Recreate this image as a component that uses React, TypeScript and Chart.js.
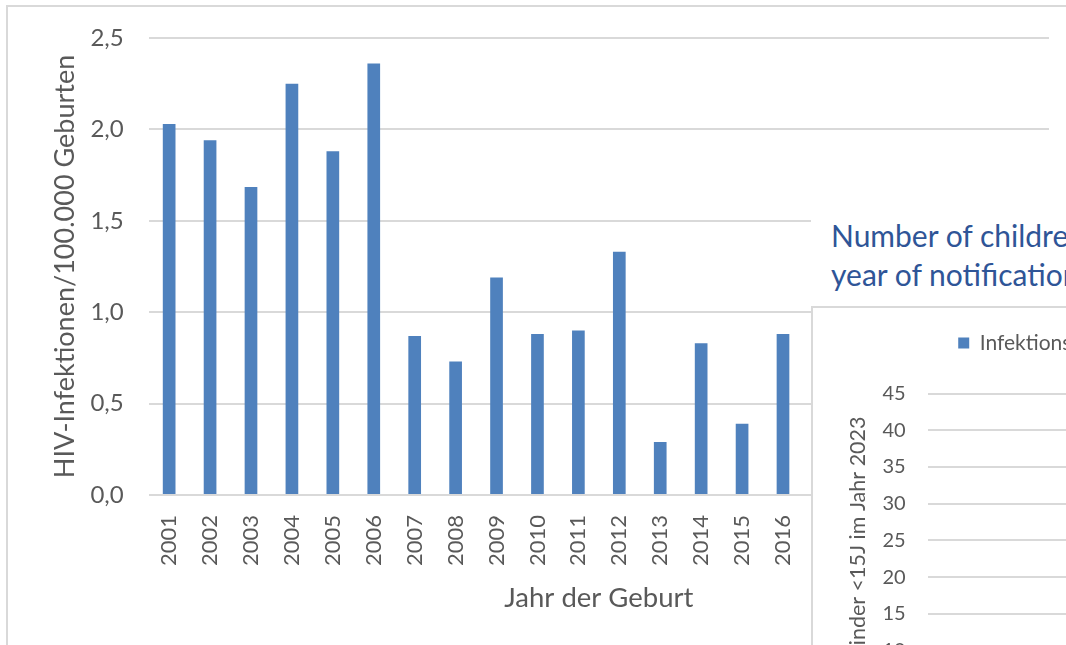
import { useEffect, useRef } from "react";
import { Chart, registerables } from "chart.js";

Chart.register(...registerables);

// ---------- main chart data ----------
const birthYears = [
  "2001", "2002", "2003", "2004", "2005", "2006", "2007", "2008",
  "2009", "2010", "2011", "2012", "2013", "2014", "2015", "2016",
  "2017", "2018", "2019", "2020", "2021", "2022",
];
// 2017-2022 are hidden behind the overlapping second chart
const hivRatePer100k: (number | null)[] = [
  2.03, 1.94, 1.685, 2.25, 1.88, 2.36, 0.87, 0.73,
  1.19, 0.88, 0.9, 1.33, 0.29, 0.83, 0.39, 0.88,
  null, null, null, null, null, null,
];
const yMin = 0;
const yMax = 2.5;
const yStep = 0.5;
const yTitle = "HIV-Infektionen/100.000 Geburten";
const xTitle = "Jahr der Geburt";

// ---------- overlapping second chart ----------
const insetTitleLines = [
  "Number of children <15 years with HIV infection by",
  "year of notification and transmission route",
];
const insetLegendLabel = "Infektionsweg Mutter-Kind";
const insetYTitle = "Alle Kinder <15J im Jahr 2023";
const insetYears = ["2019", "2020", "2021", "2022", "2023"];
const insetCounts: (number | null)[] = [null, null, null, null, null];
const insetYMin = 0;
const insetYMax = 45;
const insetYStep = 5;

const FONT = "Lato";
const GREY = "#595959";
const GRID = "#d9d9d9";
const BLUE = "#4f81bd";

export default function App() {
  const mainRef = useRef<HTMLCanvasElement>(null);
  const insetRef = useRef<HTMLCanvasElement>(null);

  useEffect(() => {
    Chart.defaults.font.family = FONT;
    const main = new Chart(mainRef.current!, {
      type: "bar",
      data: {
        labels: birthYears,
        datasets: [
          {
            label: "HIV-Infektionen/100.000 Geburten",
            data: hivRatePer100k,
            backgroundColor: BLUE,
            borderWidth: 0,
            categoryPercentage: 1,
            barPercentage: 0.31,
          },
        ],
      },
      options: {
        responsive: false,
        animation: false,
        layout: { padding: { left: 48.8, right: 17, top: 38, bottom: 30.5 } },
        plugins: { legend: { display: false }, tooltip: { enabled: false } },
        scales: {
          x: {
            grid: {
              display: true,
              color: "transparent",
              tickColor: "transparent",
              drawTicks: true,
              tickLength: 20,
            },
            border: { display: false },
            ticks: {
              color: GREY,
              font: { size: 22, family: FONT },
              minRotation: 90,
              maxRotation: 90,
              autoSkip: false,
              padding: 0,
            },
            title: {
              display: true,
              text: xTitle,
              color: GREY,
              font: { size: 27.5, family: FONT },
              padding: { top: 15.5, bottom: 0 },
            },
          },
          y: {
            min: yMin,
            max: yMax,
            grid: {
              color: GRID,
              lineWidth: 2,
              drawTicks: true,
              tickLength: 25,
              tickColor: "transparent",
            },
            border: { display: false },
            ticks: {
              stepSize: yStep,
              color: GREY,
              font: { size: 24, family: FONT },
              padding: 0,
              callback: (v) => Number(v).toFixed(1).replace(".", ","),
            },
            title: {
              display: true,
              text: yTitle,
              color: GREY,
              font: { size: 27, family: FONT },
              padding: { top: 0, bottom: 9.2 },
            },
          },
        },
      },
    });

    const legendSpacer = {
      id: "legendSpacer",
      beforeInit(chart: any) {
        const orig = chart.legend.fit;
        chart.legend.fit = function fit() {
          orig.bind(chart.legend)();
          this.height += 30;
        };
      },
    };

    const inset = new Chart(insetRef.current!, {
      type: "bar",
      data: {
        labels: insetYears,
        datasets: [
          {
            label: insetLegendLabel,
            data: insetCounts,
            backgroundColor: BLUE,
          },
        ],
      },
      options: {
        responsive: false,
        animation: false,
        layout: { padding: { left: 32.2, right: 0, top: 14.5, bottom: 144 } },
        plugins: {
          legend: {
            display: true,
            position: "top",
            labels: {
              color: GREY,
              font: { size: 21, family: FONT },
              boxWidth: 11,
              boxHeight: 11,
              padding: 10,
            },
          },
          tooltip: { enabled: false },
        },
        scales: {
          x: { display: false },
          y: {
            min: insetYMin,
            max: insetYMax,
            grid: {
              color: GRID,
              lineWidth: 2,
              drawTicks: true,
              tickLength: 22,
              tickColor: "transparent",
            },
            border: { display: false },
            ticks: {
              stepSize: insetYStep,
              color: GREY,
              font: { size: 20, family: FONT },
              padding: 0,
            },
            title: {
              display: true,
              text: insetYTitle,
              color: GREY,
              font: { size: 21.5, family: FONT },
              padding: { top: 0, bottom: 11.5 },
            },
          },
        },
      },
      plugins: [legendSpacer],
    });

    return () => {
      main.destroy();
      inset.destroy();
    };
  }, []);

  return (
    <div
      style={{
        position: "fixed",
        left: 0,
        top: 0,
        width: 1066,
        height: 645,
        overflow: "hidden",
        background: "#fff",
      }}
    >
      <div
        style={{
          position: "absolute",
          left: 6,
          top: 5,
          width: 1200,
          height: 800,
          border: `2px solid ${GRID}`,
        }}
      />
      <canvas
        ref={mainRef}
        width={1066}
        height={645}
        style={{ position: "absolute", left: 0, top: 0, display: "block" }}
      />
      <div
        style={{
          position: "absolute",
          left: 811,
          top: 190,
          width: 700,
          height: 700,
          background: "#fff",
        }}
      />
      <div
        style={{
          position: "absolute",
          left: 831,
          top: 216,
          whiteSpace: "nowrap",
          fontFamily: FONT,
          fontSize: 30,
          lineHeight: "39px",
          color: "#2f5597",
        }}
      >
        {insetTitleLines.map((l, i) => (
          <div key={i}>{l}</div>
        ))}
      </div>
      <div
        style={{
          position: "absolute",
          left: 811,
          top: 306,
          width: 700,
          height: 700,
          border: `2px solid ${GRID}`,
          background: "#fff",
        }}
      />
      <canvas
        ref={insetRef}
        width={529}
        height={560}
        style={{ position: "absolute", left: 813, top: 308, display: "block" }}
      />
    </div>
  );
}
